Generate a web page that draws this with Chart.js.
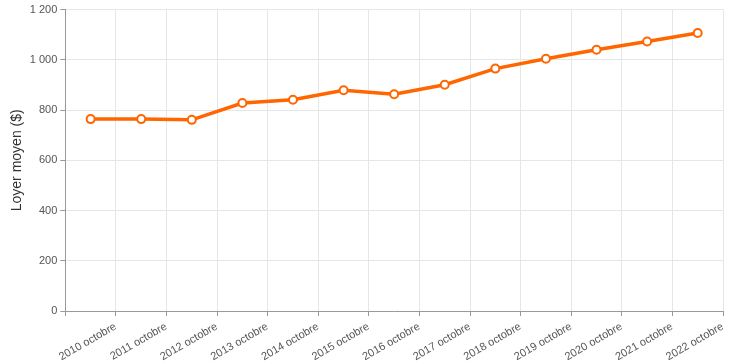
<!DOCTYPE html>
<html>
<head>
<meta charset="utf-8">
<script src="https://cdn.jsdelivr.net/npm/chart.js@4/dist/chart.umd.min.js"></script>
<style>
  html, body { margin: 0; padding: 0; background: #fff; }
  #wrap { width: 745px; height: 362px; }
</style>
</head>
<body>
<div id="wrap"><canvas id="rentChart"></canvas></div>
<script>
const years = ["2010", "2011", "2012", "2013", "2014", "2015", "2016", "2017", "2018", "2019", "2020", "2021", "2022"];
const labels = years.map(y => y + " octobre");
const loyerMoyen = [764, 764, 761, 828, 841, 879, 863, 901, 965, 1004, 1040, 1073, 1107];
const yTicks = [0, 200, 400, 600, 800, 1000, 1200];

const orange = "rgb(255, 102, 0)";
const fontFam = "'Liberation Sans', Arial, sans-serif";

const ctx = document.getElementById("rentChart").getContext("2d");

new Chart(ctx, {
  type: "line",
  data: {
    labels: labels,
    datasets: [{
      label: "Loyer moyen ($)",
      data: loyerMoyen,
      borderColor: orange,
      backgroundColor: "#fff",
      borderWidth: 3.5,
      pointRadius: 4,
      pointBorderWidth: 2,
      pointBackgroundColor: "#fff",
      pointBorderColor: orange,
      tension: 0,
      fill: false
    }]
  },
  options: {
    responsive: true,
    maintainAspectRatio: false,
    animation: false,
    layout: { padding: { top: 8, right: 22, left: 5, bottom: 0 } },
    plugins: {
      legend: { display: false },
      tooltip: { enabled: false }
    },
    scales: {
      x: {
        offset: true,
        afterFit: (s) => { s.height = 51; },
        grid: { offset: true, color: "#e6e6e6", tickColor: "#999", tickLength: 5 },
        border: { color: "#999" },
        ticks: {
          color: "#555",
          font: { family: fontFam, size: 11 },
          minRotation: 30,
          maxRotation: 30,
          autoSkip: false,
          padding: 4,
          labelOffset: 25
        }
      },
      y: {
        min: 0,
        max: 1200,
        afterBuildTicks: (s) => { s.ticks = yTicks.map(v => ({ value: v })); },
        grid: { color: "#e6e6e6", tickColor: "#999", tickLength: 5 },
        border: { color: "#999" },
        title: {
          display: true,
          text: "Loyer moyen ($)",
          color: "#333",
          padding: { top: 4, bottom: 1 },
          font: { family: fontFam, size: 14 }
        },
        ticks: {
          color: "#555",
          font: { family: fontFam, size: 11 },
          callback: (v) => String(v).replace(/\B(?=(\d{3})+(?!\d))/g, " ")
        }
      }
    }
  }
});
</script>
</body>
</html>
